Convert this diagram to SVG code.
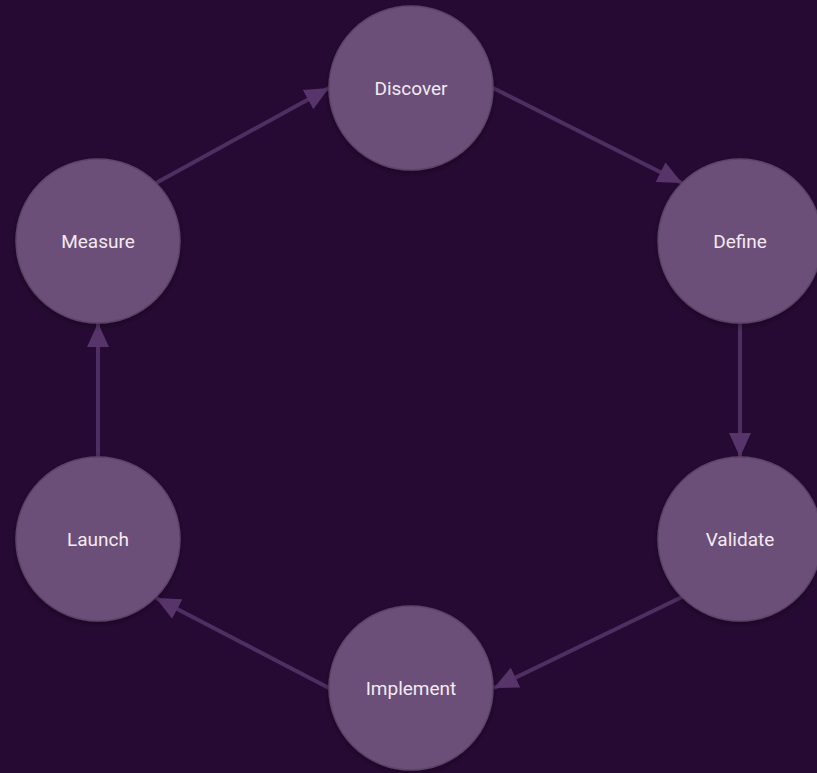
<svg xmlns="http://www.w3.org/2000/svg" width="817" height="773" viewBox="0 0 817 773">
<style>
.node circle{fill:#6c5078;stroke:#5e4269;stroke-width:1.5;filter:url(#sh)}
.node text{font-family:Roboto,"Liberation Sans",sans-serif;font-size:19px;fill:#f3eaf3;text-anchor:middle;dominant-baseline:central}
.edges line{stroke:#4f2e61;stroke-width:4;marker-end:url(#ah)}
</style>
<defs>
<filter id="sh" x="-20%" y="-20%" width="140%" height="140%">
<feDropShadow dx="0" dy="2" stdDeviation="3" flood-color="#000" flood-opacity="0.35"/>
</filter>
<marker id="ah" markerUnits="userSpaceOnUse" markerWidth="24" markerHeight="22" viewBox="0 0 24 22" refX="24" refY="11" orient="auto">
<path d="M0,0 L24,11 L0,22 Z" fill="#57346a"/>
</marker>
</defs>
<rect width="817" height="773" fill="#260a33"/>
<g class="edges">
<line x1="493" y1="88" x2="682" y2="183"/>
<line x1="740" y1="323" x2="740" y2="457"/>
<line x1="682" y1="597" x2="494" y2="688"/>
<line x1="329" y1="688" x2="156" y2="598"/>
<line x1="98" y1="457" x2="98" y2="323"/>
<line x1="156" y1="183" x2="329" y2="88"/>
</g>
<g id="discover" class="node"><circle cx="411" cy="88" r="82"/><text x="411" y="88">Discover</text></g>
<g id="define" class="node"><circle cx="740" cy="241" r="82"/><text x="740" y="241">Define</text></g>
<g id="validate" class="node"><circle cx="740" cy="539" r="82"/><text x="740" y="539">Validate</text></g>
<g id="implement" class="node"><circle cx="411" cy="688" r="82"/><text x="411" y="688">Implement</text></g>
<g id="launch" class="node"><circle cx="98" cy="539" r="82"/><text x="98" y="539">Launch</text></g>
<g id="measure" class="node"><circle cx="98" cy="241" r="82"/><text x="98" y="241">Measure</text></g>
</svg>
